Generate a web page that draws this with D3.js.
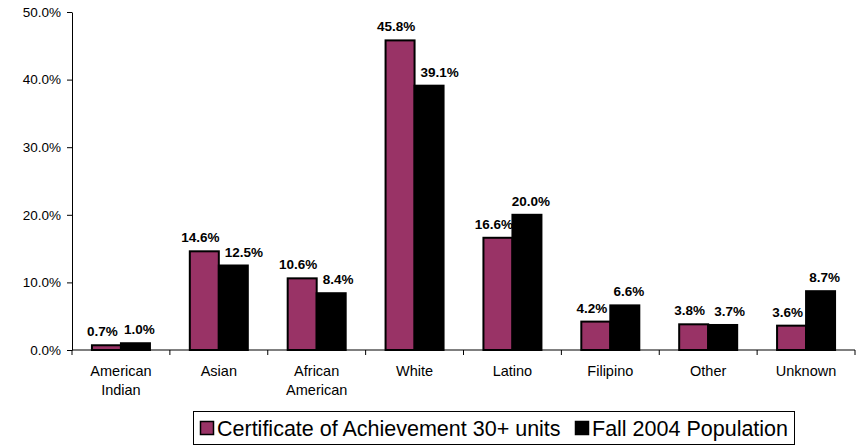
<!DOCTYPE html>
<html><head><meta charset="utf-8">
<script src="https://cdn.jsdelivr.net/npm/d3@7"></script>
<style>body{margin:0;background:#fff;}svg{display:block;font-family:Arial,"Liberation Sans",sans-serif;}</style>
</head><body><svg id="c" width="861" height="445"></svg>
<script>
const categories = [["American","Indian"],["Asian"],["African","American"],["White"],["Latino"],["Filipino"],["Other"],["Unknown"]];
const seriesNames = ["Certificate of Achievement 30+ units","Fall 2004 Population"];
const certificate = [0.7,14.6,10.6,45.8,16.6,4.2,3.8,3.6];
const population = [1.0,12.5,8.4,39.1,20.0,6.6,3.7,8.7];
const yTicks = [0,10,20,30,40,50];
const colors = ["#993366","#000000"];

(function(){
const FF = "Arial, 'Liberation Sans', sans-serif";
const svg = d3.select("#c");
const mLeft = 72, mRight = 855, mTop = 12, mBottom = 350;
const idx = categories.map((d,i)=>i);
const x = d3.scaleBand().domain(idx).range([mLeft,mRight]).paddingInner(0).paddingOuter(0);
const y = d3.scaleLinear().domain([0,50]).range([mBottom,mTop]);
const bw = 29;

const ya = svg.append("g").attr("transform",`translate(${mLeft},0)`)
  .call(d3.axisLeft(y).tickValues(yTicks).tickSize(5).tickSizeOuter(0).tickPadding(6).tickFormat(d=>d.toFixed(1)+"%"));
ya.attr("font-size",null).attr("font-family",null);
ya.select(".domain").attr("stroke","#000");
ya.selectAll("text").style("font-size","13.5px").attr("fill","#000").style("font-family",FF);

const series = [certificate, population];
series.forEach((vals,s)=>{
  svg.append("g").selectAll("rect").data(vals).join("rect")
    .attr("x",(d,i)=>x(i)+x.bandwidth()/2 - bw + s*bw)
    .attr("y",d=>y(d))
    .attr("width",bw)
    .attr("height",d=>mBottom-y(d))
    .attr("fill",colors[s]).attr("stroke","#000").attr("stroke-width",2);
});
// labels: maroon label nudged left, black label nudged right (clear of taller maroon bar)
svg.append("g").selectAll("text").data(certificate).join("text")
  .attr("x",(d,i)=>x(i)+x.bandwidth()/2 - bw/2 - 4)
  .attr("y",d=>y(d)-9)
  .attr("text-anchor","middle").style("font-size","13.5px").attr("font-weight","bold")
  .text(d=>d.toFixed(1)+"%");
svg.append("g").selectAll("text").data(population).join("text")
  .attr("x",(d,i)=> certificate[i] > d ? x(i)+x.bandwidth()/2 + 6 : x(i)+x.bandwidth()/2 + bw/2 + 4)
  .attr("text-anchor",(d,i)=> certificate[i] > d ? "start" : "middle")
  .attr("y",d=>y(d)-9)
  .style("font-size","13.5px").attr("font-weight","bold")
  .text(d=>d.toFixed(1)+"%");

const xa = svg.append("g").attr("transform",`translate(0,${mBottom})`);
xa.append("line").attr("x1",mLeft).attr("x2",mRight).attr("stroke","#000");
const tickPos = idx.map(i=>x(i)).concat([mRight]);
xa.selectAll("line.t").data(tickPos).join("line").attr("class","t")
  .attr("x1",d=>d).attr("x2",d=>d).attr("y1",0).attr("y2",5).attr("stroke","#000");
categories.forEach((lines,i)=>{
  const cx = x(i)+x.bandwidth()/2;
  const t = xa.append("text").attr("text-anchor","middle").style("font-size","14.5px")
    .attr("x",cx).attr("y",26);
  lines.forEach((l,k)=>t.append("tspan").attr("x",cx).attr("dy",k?19:0).text(l));
});

const lg = svg.append("g");
lg.append("rect").attr("x",193.5).attr("y",411.5).attr("width",601).attr("height",33).attr("fill","#fff").attr("stroke","#000");
const items = [{x:200,name:seriesNames[0],c:colors[0]},{x:575,name:seriesNames[1],c:colors[1]}];
items.forEach(it=>{
  lg.append("rect").attr("x",it.x+0.5).attr("y",421.5).attr("width",13).attr("height",13).attr("fill",it.c).attr("stroke","#000").attr("stroke-width",1.5);
  lg.append("text").attr("x",it.x+17).attr("y",436).style("font-size","21.5px").text(it.name);
});
})();
</script></body></html>
